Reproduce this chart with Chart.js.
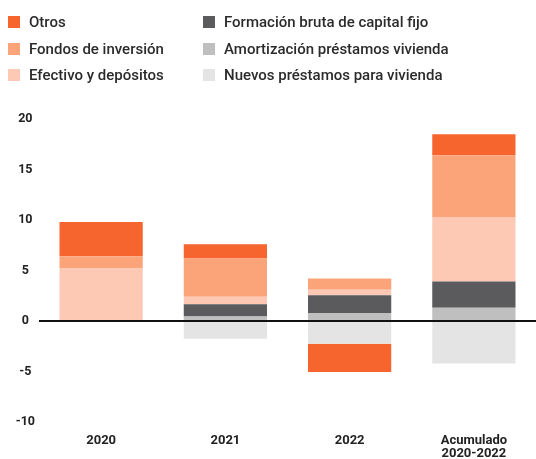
<!DOCTYPE html>
<html>
<head>
<meta charset="utf-8">
<script src="https://cdn.jsdelivr.net/npm/chart.js@4"></script>
<style>
    body { margin: 0; background: #fff; font-family: Roboto, sans-serif; }
    #wrap { position: relative; width: 536px; height: 459px; }
    #legend { position: absolute; left: 8px; top: 12px; width: 528px; }
    .item { position: absolute; font-size: 15px; font-weight: 500; color: #2b2b2b; white-space: nowrap; line-height: 20px; }
    .box { display: inline-block; width: 12px; height: 12px; margin-right: 9px; vertical-align: -1px; }
</style>
</head>
<body>
<div id="wrap">
    <div id="legend"></div>
    <canvas id="chart" width="536" height="459"></canvas>
</div>
<script>
const categories = ['2020', '2021', '2022', ['Acumulado', '2020-2022']];
const otros = [3.4, 1.4, -2.8, 2.1];
const fondos = [1.2, 3.8, 1.1, 6.1];
const efectivo = [5.2, 0.75, 0.55, 6.4];
const formacion = [0, 1.2, 1.75, 2.6];
const amortizacion = [0, 0.45, 0.8, 1.3];
const nuevos = [0, -1.75, -2.25, -4.2];
const yTicks = [20, 15, 10, 5, 0, -5, -10];

const colors = {
    otros: '#f7652f',
    fondos: '#fba47a',
    efectivo: '#fdc9b5',
    formacion: '#5b5b5d',
    amortizacion: '#bfbfbf',
    nuevos: '#e4e4e4'
};

// legend in two columns, like the original
const legendItems = [
    ['Otros', colors.otros, 0, 0],
    ['Fondos de inversión', colors.fondos, 0, 1],
    ['Efectivo y depósitos', colors.efectivo, 0, 2],
    ['Formación bruta de capital fijo', colors.formacion, 1, 0],
    ['Amortización préstamos vivienda', colors.amortizacion, 1, 1],
    ['Nuevos préstamos para vivienda', colors.nuevos, 1, 2]
];
const legend = document.getElementById('legend');
legendItems.forEach(([text, color, col, row]) => {
    const div = document.createElement('div');
    div.className = 'item';
    div.style.left = (col * 195) + 'px';
    div.style.top = (row * 26.5) + 'px';
    div.innerHTML = '<span class="box" style="background:' + color + '"></span>' + text;
    legend.appendChild(div);
});

function ds(label, data, color) {
    return {
        label: label,
        data: data,
        backgroundColor: color,
        borderWidth: 0,
        stack: 's',
        categoryPercentage: 1,
        barPercentage: 0.67
    };
}

new Chart(document.getElementById('chart').getContext('2d'), {
    type: 'bar',
    data: {
        labels: categories,
        datasets: [
            ds('Amortización préstamos vivienda', amortizacion, colors.amortizacion),
            ds('Nuevos préstamos para vivienda', nuevos, colors.nuevos),
            ds('Formación bruta de capital fijo', formacion, colors.formacion),
            ds('Efectivo y depósitos', efectivo, colors.efectivo),
            ds('Fondos de inversión', fondos, colors.fondos),
            ds('Otros', otros, colors.otros)
        ]
    },
    options: {
        responsive: false,
        animation: false,
        layout: { padding: { top: 119, bottom: 0, left: 0, right: 0 } },
        plugins: { legend: { display: false }, tooltip: { enabled: false } },
        scales: {
            x: {
                stacked: true,
                afterFit: s => { s.height = 37; },
                grid: { display: false },
                border: { display: false },
                ticks: {
                    color: '#222',
                    font: { family: 'Roboto', size: 13, weight: 'bold', lineHeight: 1.0 },
                    padding: 4,
                    maxRotation: 0
                }
            },
            y: {
                stacked: true,
                min: -10,
                max: 20,
                afterFit: s => { s.width = 39; },
                afterBuildTicks: s => { s.ticks = yTicks.map(v => ({ value: v })); },
                grid: {
                    drawTicks: false,
                    color: c => c.tick && c.tick.value === 0 ? '#111' : 'rgba(0,0,0,0)',
                    lineWidth: 2
                },
                border: { display: false },
                ticks: {
                    color: '#222',
                    crossAlign: 'center',
                    padding: 4,
                    font: { family: 'Roboto', size: 12.5, weight: 'bold' }
                }
            }
        }
    }
});
</script>
</body>
</html>
